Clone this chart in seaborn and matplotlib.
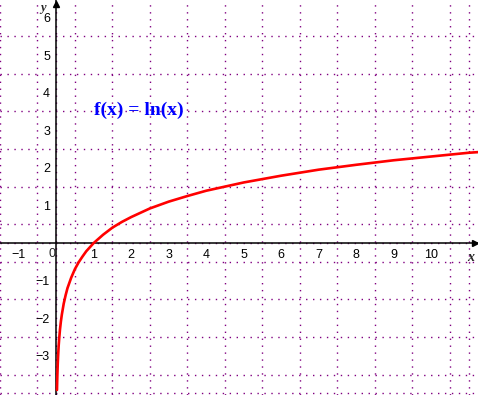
import matplotlib
matplotlib.use("Agg")
import matplotlib.pyplot as plt
import seaborn as sns
import numpy as np
import pandas as pd

# Curve samples (f(x) = ln(x))
x_vals = [0.02, 0.025, 0.03, 0.04, 0.05, 0.065, 0.08, 0.1, 0.125, 0.15, 0.2, 0.25,
          0.3, 0.4, 0.5, 0.6, 0.7, 0.8, 1.0, 1.25, 1.5, 1.75, 2.0, 2.5, 3.0, 3.5,
          4.0, 5.0, 6.0, 7.0, 8.0, 9.0, 10.0, 11.0, 11.3]
y_vals = [-3.91, -3.69, -3.51, -3.22, -3.00, -2.73, -2.53, -2.30, -2.08, -1.90, -1.61, -1.39,
          -1.20, -0.92, -0.69, -0.51, -0.36, -0.22, 0.00, 0.22, 0.41, 0.56, 0.69, 0.92, 1.10, 1.25,
          1.39, 1.61, 1.79, 1.95, 2.08, 2.20, 2.30, 2.40, 2.42]

x_ticks = [-1, 1, 2, 3, 4, 5, 6, 7, 8, 9, 10]
y_ticks = [-3, -2, -1, 1, 2, 3, 4, 5, 6]
x_tick_labels = ["\u22121", "1", "2", "3", "4", "5", "6", "7", "8", "9", "10"]
y_tick_labels = ["\u22123", "\u22122", "\u22121", "1", "2", "3", "4", "5", "6"]
title_text = "f(x) = ln(x)"

sns.set_style("white")
plt.rcParams["font.family"] = ["Liberation Sans", "DejaVu Sans"]

fig = plt.figure(figsize=(4.78, 3.95), dpi=100)
ax = fig.add_axes([0, 0, 1, 1])

ppu = 37.6
ax.set_xlim(-55 / ppu, (478 - 55) / ppu)
ax.set_ylim(-(395 - 243) / ppu, 243 / ppu)

df = pd.DataFrame({"x": x_vals, "y": y_vals})
sns.lineplot(data=df, x="x", y="y", ax=ax, color="#ff0000", linewidth=1.9,
             sort=False, zorder=5)

# grid every 0.5 units, dotted purple
ax.set_xticks(np.arange(-1.5, 11.5, 0.5), minor=True)
ax.set_yticks(np.arange(-4.0, 6.5, 0.5), minor=True)
ax.grid(which="minor", color="#800080", linestyle=(0, (1, 4)), linewidth=1.0)
ax.grid(which="major", visible=False)
ax.tick_params(which="minor", length=0)

ax.set_xticks(x_ticks)
ax.set_xticklabels(x_tick_labels)
ax.set_yticks(y_ticks)
ax.set_yticklabels(y_tick_labels)
ax.tick_params(which="major", direction="inout", length=6, width=1.0, color="black",
               labelsize=9, pad=1.5, labelcolor="black")

for s in ["top", "right"]:
    ax.spines[s].set_visible(False)
for s in ["left", "bottom"]:
    ax.spines[s].set_position(("data", 0))
    ax.spines[s].set_linewidth(1.1)
    ax.spines[s].set_color("black")
ax.set_xlabel("")
ax.set_ylabel("")

# arrowheads
ax.plot(0.993, 0, ">", color="black", markersize=5, transform=ax.get_yaxis_transform(),
        clip_on=False, zorder=6)
ax.plot(0, 0.99, "^", color="black", markersize=5, transform=ax.get_xaxis_transform(),
        clip_on=False, zorder=6)

# axis names
ax.text(0.985, -0.2, "x", transform=ax.get_yaxis_transform(), ha="center", va="top",
        fontsize=10, fontstyle="italic", fontweight="bold", family=["Liberation Serif"])
ax.text(-0.27, 6.25, "y", ha="right", va="center",
        fontsize=9, fontstyle="italic", fontweight="bold", family=["Liberation Serif"])
# origin label
ax.annotate("0", xy=(0, 0), xytext=(-4, -5), textcoords="offset pixels",
            ha="center", va="top", fontsize=9)

ax.text(1.01, 3.54, title_text, ha="left", va="center", color="#0000ff",
        fontsize=14, fontweight="bold", family=["Liberation Serif"])

fig.savefig("out.png", dpi=100)
